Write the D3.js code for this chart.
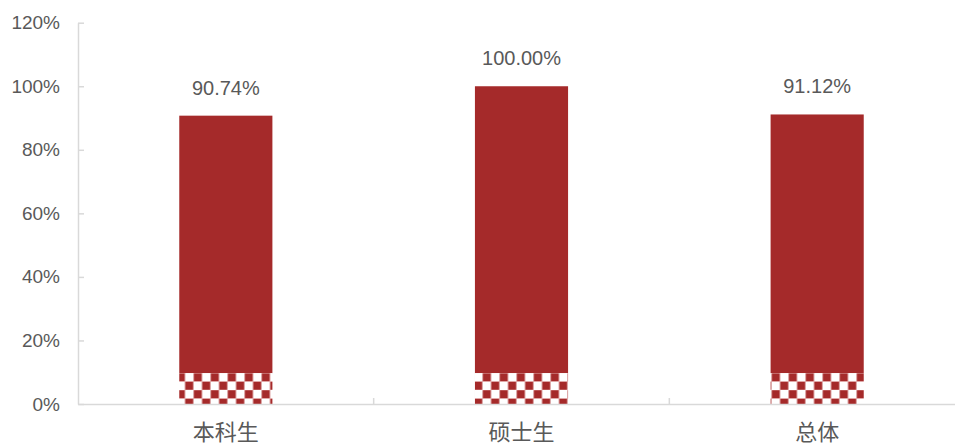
<!DOCTYPE html>
<html><head><meta charset="utf-8">
<script src="https://cdn.jsdelivr.net/npm/d3@7"></script>
<style>body{margin:0;background:#fff}svg{display:block}</style>
</head><body><svg id="c" width="955" height="445"></svg>
<script>
const categories = ["本科生", "硕士生", "总体"];
const totalValues = [90.74, 100.00, 91.12];
const patternValues = [9.7, 9.7, 9.7];
const tickValues = [0, 20, 40, 60, 80, 100, 120];

(function () {
const svg = d3.select("#c");
const mLeft = 78, mRight = 965, mTop = 22.7, mBottom = 404;
const red = "#a52a2a", txt = "#595959", axisC = "#d9d9d9";
const font = "'Liberation Sans',sans-serif";
const cjk = "'Noto Sans CJK SC',sans-serif";

const x = d3.scaleBand().domain(categories).range([mLeft, mRight]).paddingInner(0.685).paddingOuter(0.3425);
const y = d3.scaleLinear().domain([0, 120]).range([mBottom, mTop]);

const defs = svg.append("defs");
const pat = defs.append("pattern").attr("id", "chk").attr("patternUnits", "userSpaceOnUse")
  .attr("width", 17).attr("height", 17).attr("x", 176.5).attr("y", 373);
pat.append("rect").attr("width", 17).attr("height", 17).attr("fill", "#fff");
pat.append("rect").attr("width", 8.5).attr("height", 8.5).attr("fill", red).attr("stroke", "#e8b4b4").attr("stroke-width", 0.6);
pat.append("rect").attr("x", 8.5).attr("y", 8.5).attr("width", 8.5).attr("height", 8.5).attr("fill", red).attr("stroke", "#e8b4b4").attr("stroke-width", 0.6);

// y axis
const yAxis = d3.axisLeft(y).tickValues(tickValues).tickSizeInner(-6).tickSizeOuter(0).tickFormat(d => d + "%");
const gy = svg.append("g").attr("transform", `translate(${mLeft},0)`).call(yAxis);
gy.select(".domain").attr("stroke", axisC).attr("stroke-width", 1.5);
gy.selectAll(".tick line").attr("stroke", axisC).attr("stroke-width", 1.5);
gy.selectAll(".tick text").attr("x", -18).attr("fill", txt).style("font-family", font).style("font-size", "19px");

// bars
const g = svg.append("g");
categories.forEach((c, i) => {
  const pv = patternValues[i], tv = totalValues[i];
  g.append("rect").attr("x", x(c)).attr("width", x.bandwidth())
    .attr("y", y(tv)).attr("height", y(pv) - y(tv)).attr("fill", red);
  g.append("rect").attr("x", x(c)).attr("width", x.bandwidth())
    .attr("y", y(pv)).attr("height", y(0) - y(pv)).attr("fill", "url(#chk)");
  g.append("text").attr("x", x(c) + x.bandwidth() / 2).attr("y", y(tv) - 21)
    .attr("text-anchor", "middle").attr("fill", txt).style("font-family", font).style("font-size", "20px")
    .text(tv.toFixed(2) + "%");
});

// x axis
const xAxis = d3.axisBottom(x).tickSize(0).tickSizeOuter(0);
const gx = svg.append("g").attr("transform", `translate(0,${mBottom})`).call(xAxis);
gx.select(".domain").attr("stroke", axisC).attr("stroke-width", 1.5);
gx.selectAll(".tick text").attr("y", 20).attr("dy", "0.71em").attr("fill", txt).style("font-family", cjk).style("font-size", "22px");
// category boundary ticks
const bounds = categories.slice(1).map(c => x(c) - x.step() * x.paddingInner() / 2);
svg.append("g").selectAll("line").data(bounds).join("line")
  .attr("x1", d => d).attr("x2", d => d).attr("y1", mBottom - 6).attr("y2", mBottom)
  .attr("stroke", axisC).attr("stroke-width", 1.5);
})();
</script></body></html>
